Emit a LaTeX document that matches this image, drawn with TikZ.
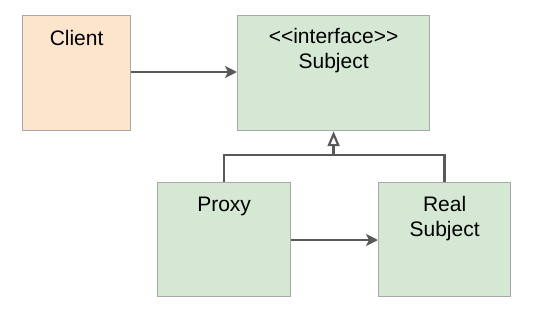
\documentclass[tikz,border=0pt]{standalone}
\usepackage{fontspec}
\setmainfont[Ligatures=NoCommon]{Liberation Sans}
\usetikzlibrary{arrows.meta}
\definecolor{peach}{HTML}{FCE4CD}
\definecolor{mint}{HTML}{D5E8D4}
\definecolor{edge}{HTML}{A8A8A8}
\definecolor{wire}{HTML}{595959}
\begin{document}
\begin{tikzpicture}[x=1pt,y=-1pt,
  box/.style={draw=edge,line width=1.2pt,inner sep=0pt,anchor=north west},
  lbl/.style={font=\fontsize{21}{24.5}\selectfont,align=center,anchor=north},
  conn/.style={draw=wire,line width=2.6pt},
  pointy/.style={-{Stealth[length=12pt,width=12pt,inset=3pt]}},
  inherit/.style={-{Triangle[open,length=15pt,width=12pt,fill=white,line width=2.2pt]}}]
\useasboundingbox (0,0) rectangle (559,313);
\node[box,fill=peach,minimum width=108pt,minimum height=115pt] (client) at (22,15) {};
\node[box,fill=mint,minimum width=192pt,minimum height=115pt] (subject) at (237,15) {};
\node[box,fill=mint,minimum width=133pt,minimum height=114pt] (proxy) at (157,182) {};
\node[box,fill=mint,minimum width=132pt,minimum height=114pt] (real) at (378,182) {};
\node[lbl] (tclient) at (client.north |- 0,27) {Client};
\node[lbl] (tsubject) at (subject.north |- 0,25) {{<}{<}interface{>}{>}\\Subject};
\node[lbl] (tproxy) at (proxy.north |- 0,194) {Proxy};
\node[lbl] (treal) at (real.north |- 0,193) {Real\\Subject};
\coordinate (junc) at (subject.south |- 0,155);
\draw[conn,pointy] (client.east |- 0,72) -- (subject.west |- 0,72);
\draw[conn,pointy] (proxy.east |- 0,240) -- (real.west |- 0,240);
\draw[conn] (proxy.north) |- (junc) -| (real.north);
\draw[conn,inherit] (junc) -- (subject.south);
\end{tikzpicture}
\end{document}
